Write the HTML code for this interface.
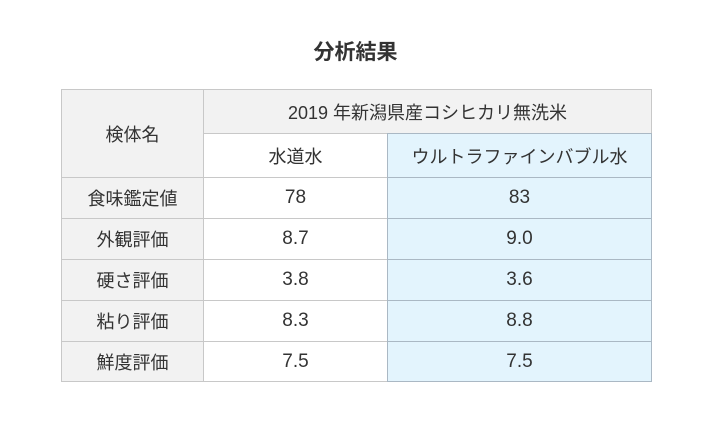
<!DOCTYPE html><html><head><meta charset="utf-8"><style>
body{margin:0;width:711px;height:428px;background:#fff;font-family:"Liberation Sans","Noto Sans CJK JP",sans-serif;color:#333;position:relative;overflow:hidden}
.c{position:absolute;box-sizing:border-box;display:flex;align-items:center;justify-content:center;font-size:18px;border:1px solid #c8c8c8}
.g{background:#f2f2f2}.b{background:#e3f4fd;border-color:#aab8c4}
.n{font-size:19px}
</style></head><body>
<div style="position:absolute;top:36px;left:0;width:711px;text-align:center;font-size:21px;font-weight:bold;color:#333">分析結果</div>
<div class="c g" style="left:61px;top:89px;width:143px;height:89px">検体名</div>
<div class="c g" style="left:203px;top:89px;width:449px;height:45px">2019 年新潟県産コシヒカリ無洗米</div>
<div class="c" style="left:203px;top:133px;width:185px;height:45px">水道水</div>
<div class="c b" style="left:387px;top:133px;width:265px;height:45px">ウルトラファインバブル水</div>
<div class="c g" style="left:61px;top:177px;width:143px;height:42px">食味鑑定値</div>
<div class="c n" style="left:203px;top:177px;width:185px;height:42px">78</div>
<div class="c b n" style="left:387px;top:177px;width:265px;height:42px">83</div>
<div class="c g" style="left:61px;top:218px;width:143px;height:42px">外観評価</div>
<div class="c n" style="left:203px;top:218px;width:185px;height:42px">8.7</div>
<div class="c b n" style="left:387px;top:218px;width:265px;height:42px">9.0</div>
<div class="c g" style="left:61px;top:259px;width:143px;height:42px">硬さ評価</div>
<div class="c n" style="left:203px;top:259px;width:185px;height:42px">3.8</div>
<div class="c b n" style="left:387px;top:259px;width:265px;height:42px">3.6</div>
<div class="c g" style="left:61px;top:300px;width:143px;height:42px">粘り評価</div>
<div class="c n" style="left:203px;top:300px;width:185px;height:42px">8.3</div>
<div class="c b n" style="left:387px;top:300px;width:265px;height:42px">8.8</div>
<div class="c g" style="left:61px;top:341px;width:143px;height:41px">鮮度評価</div>
<div class="c n" style="left:203px;top:341px;width:185px;height:41px">7.5</div>
<div class="c b n" style="left:387px;top:341px;width:265px;height:41px">7.5</div>
</body></html>
